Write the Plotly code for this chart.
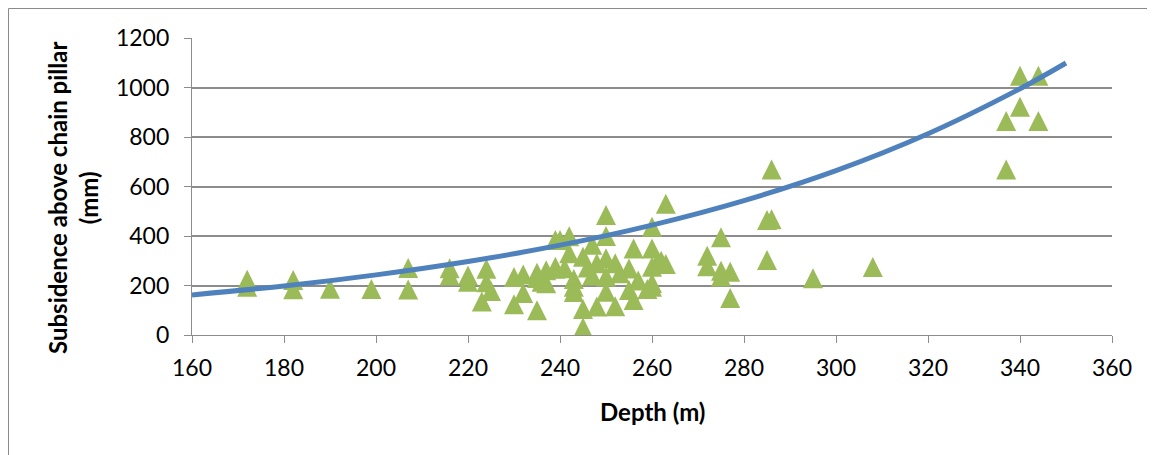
import plotly.graph_objects as go

# Observed data (depth in m, subsidence in mm)
depth = [172, 172, 182, 182, 190, 199, 207, 207, 216, 216, 220, 220,
         224, 224, 225, 223, 230, 230, 232, 232, 235, 235, 235, 236,
         237, 237, 239, 239, 239, 240, 241, 242, 242, 243, 243, 243,
         245, 245, 245, 246, 247, 247, 248, 248, 250, 250, 250, 250, 250,
         252, 252, 253, 255, 255, 256, 256, 257, 259, 260, 260, 260, 260, 260,
         261, 262, 263, 263, 272, 272, 275, 275, 275, 277, 277,
         285, 286, 286, 285, 295, 308, 337, 337, 340, 340, 344, 344]
subsidence = [223, 195, 222, 185, 187, 186, 271, 184, 270, 240, 240, 215,
              268, 213, 178, 135, 234, 124, 244, 170, 252, 100, 230, 215,
              262, 209, 268, 384, 276, 384, 270, 399, 330, 226, 195, 174,
              316, 105, 30, 273, 365, 240, 115, 290, 485, 400, 310, 236, 175,
              290, 116, 250, 269, 182, 350, 141, 220, 186, 437, 350, 276, 210, 195,
              290, 300, 287, 530, 320, 278, 395, 260, 236, 256, 150,
              465, 468, 669, 303, 229, 275, 865, 669, 1047, 922, 1047, 865]

# Exponential trendline
trend_depth = [160, 180, 200, 220, 240, 260, 280, 300, 320, 340, 350]
trend_value = [162, 198, 243, 297, 363, 444, 543, 664, 813, 995, 1099]

x_ticks = [160, 180, 200, 220, 240, 260, 280, 300, 320, 340, 360]
y_ticks = [0, 200, 400, 600, 800, 1000, 1200]

FONT = "Lato"
GRID = "#8c8c8c"
MS = 20

# page body has an 8px margin; work in screen pixels and convert
OFF = 8
W, H = 1155, 455
SL, SR, ST, SB = 192, 1112, 38, 335   # plot area in screen pixels
L = SL - OFF
T = ST - OFF
R = W - (SR - OFF)
B = H - (SB - OFF)
pw, ph = SR - SL, SB - ST

def px(xs):
    return (xs - SL) / pw

def py(ys):
    return (SB - ys) / ph

fig = go.Figure()
fig.add_trace(go.Scatter(
    x=depth, y=subsidence, mode="markers",
    marker=dict(symbol="arrow-down", angle=180, standoff=MS / 2, size=MS,
                color="#9BBB59", line=dict(width=0)),
    showlegend=False, hoverinfo="x+y"))
fig.add_trace(go.Scatter(
    x=trend_depth, y=trend_value, mode="lines",
    line=dict(color="#4F81BD", width=5, shape="spline", smoothing=1.0),
    showlegend=False, hoverinfo="skip"))

fig.update_layout(
    width=W, height=H, autosize=False,
    margin=dict(l=L, r=R, t=T, b=B, pad=0),
    paper_bgcolor="white", plot_bgcolor="white",
    font=dict(family=FONT, size=23, color="black"),
    xaxis=dict(range=[160, 360], tickvals=x_ticks, ticktext=[str(v) for v in x_ticks],
               showgrid=False, zeroline=False, showline=True, linecolor=GRID, linewidth=1.3,
               ticks="outside", ticklen=7, tickcolor=GRID, tickwidth=1.3,
               ticklabelstandoff=5,
               tickfont=dict(family=FONT, size=23, color="black")),
    yaxis=dict(range=[0, 1200], tickvals=y_ticks, ticktext=[str(v) for v in y_ticks],
               showgrid=True, gridcolor=GRID, gridwidth=1.5, zeroline=False,
               showline=True, linecolor=GRID, linewidth=1.3,
               ticks="outside", ticklen=7, tickcolor=GRID, tickwidth=1.3,
               ticklabelstandoff=10,
               tickfont=dict(family=FONT, size=23, color="black")),
    annotations=[
        dict(text="<b>Subsidence above chain pillar</b><br><b>(mm)</b>",
             xref="paper", yref="paper", x=px(73), y=py(198), textangle=-90,
             showarrow=False, font=dict(family=FONT, size=24, color="black"),
             xanchor="center", yanchor="middle", align="center"),
        dict(text="<b>Depth (m)</b>", xref="paper", yref="paper",
             x=px(652), y=py(411), showarrow=False,
             font=dict(family=FONT, size=24, color="black"),
             xanchor="center", yanchor="middle"),
    ],
    shapes=[dict(type="rect", xref="paper", yref="paper",
                 x0=px(8.5), y0=py(480), x1=px(1180), y1=py(8.5),
                 line=dict(color="#8a8a8a", width=1), fillcolor="rgba(0,0,0,0)", layer="below")],
)

fig.write_html("out.html")
